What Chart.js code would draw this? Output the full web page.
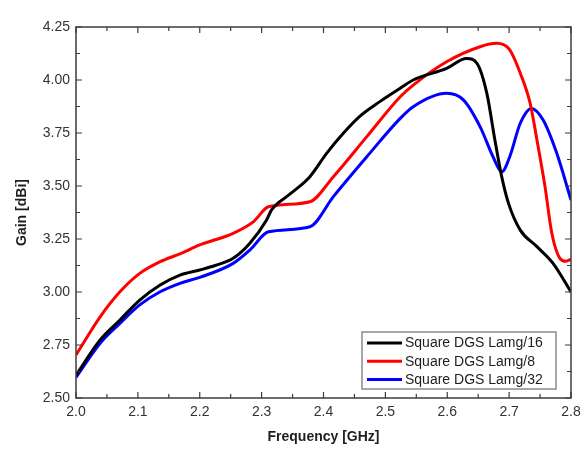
<!DOCTYPE html>
<html>
<head>
<meta charset="utf-8">
<script src="https://cdn.jsdelivr.net/npm/chart.js@4/dist/chart.umd.min.js"></script>
<style>
html,body{margin:0;padding:0;background:#fff;}
#wrap{width:584px;height:457px;position:relative;}
</style>
</head>
<body>
<div id="wrap"><canvas id="c" width="584" height="457"></canvas></div>
<script>
// ---- data ----
const seriesLabels = ['Square DGS Lamg/16', 'Square DGS Lamg/8', 'Square DGS Lamg/32'];
const seriesColors = ['#000000', '#ff0000', '#0000ff'];

const freq16 = [2.000,2.039,2.071,2.103,2.136,2.168,2.200,2.225,2.254,2.281,2.308,2.316,2.345,2.378,2.405,2.432,2.459,2.491,2.524,2.545,2.599,2.631,2.648,2.664,2.677,2.688,2.699,2.718,2.745,2.771,2.800];
const gain16 = [2.608,2.774,2.868,2.962,3.033,3.080,3.104,3.125,3.159,3.230,3.340,3.387,3.460,3.544,3.654,3.749,3.830,3.898,3.961,4.000,4.055,4.102,4.079,3.937,3.717,3.544,3.418,3.292,3.214,3.135,3.000];

const freq8 = [2.000,2.039,2.071,2.103,2.136,2.168,2.200,2.254,2.287,2.311,2.378,2.416,2.470,2.524,2.545,2.599,2.653,2.680,2.701,2.718,2.734,2.745,2.758,2.769,2.782,2.792,2.800];
const gain8 = [2.703,2.883,3.001,3.088,3.143,3.180,3.222,3.277,3.332,3.402,3.426,3.544,3.733,3.921,3.976,4.086,4.157,4.173,4.142,4.032,3.890,3.717,3.497,3.277,3.159,3.145,3.155];

const freq32 = [2.000,2.039,2.071,2.103,2.136,2.168,2.200,2.254,2.281,2.311,2.378,2.416,2.470,2.524,2.545,2.599,2.626,2.653,2.674,2.688,2.701,2.718,2.736,2.755,2.777,2.800];
const gain32 = [2.597,2.758,2.852,2.939,3.001,3.041,3.069,3.135,3.198,3.284,3.308,3.450,3.638,3.819,3.874,3.937,3.906,3.780,3.638,3.567,3.638,3.796,3.866,3.811,3.654,3.434];

const xMin = 2.0, xMax = 2.8, xStep = 0.1, xMinorStep = 0.05;
const yMin = 2.5, yMax = 4.25, yStep = 0.25, yMinorStep = 0.125;
const xTitle = 'Frequency [GHz]';
const yTitle = 'Gain [dBi]';

// ---- build ----
function pts(fx, gy){ return fx.map((f,i)=>({x:f, y:gy[i]})); }
const allFreq = [freq16, freq8, freq32];
const allGain = [gain16, gain8, gain32];

const FONT = "'Liberation Sans', Arial, Helvetica, sans-serif";
Chart.defaults.font.family = FONT;

const framePlugin = {
  id: 'frame',
  afterDatasetsDraw(chart){
    const {ctx, chartArea:a, scales:{x, y}} = chart;
    ctx.save();
    ctx.strokeStyle = '#3c3c3c';
    ctx.lineWidth = 1.5;
    ctx.strokeRect(a.left, a.top, a.right - a.left, a.bottom - a.top);
    ctx.lineWidth = 1.2;
    const nX = Math.round((xMax - xMin)/xMinorStep);
    for (let i=0;i<=nX;i++){
      const v = xMin + i*xMinorStep;
      const px = x.getPixelForValue(v);
      const len = (i%2===0) ? 6 : 4;
      ctx.beginPath();
      ctx.moveTo(px, a.bottom); ctx.lineTo(px, a.bottom - len);
      ctx.moveTo(px, a.top); ctx.lineTo(px, a.top + len);
      ctx.stroke();
    }
    const nY = Math.round((yMax - yMin)/yMinorStep);
    for (let i=0;i<=nY;i++){
      const v = yMin + i*yMinorStep;
      const py = y.getPixelForValue(v);
      const len = (i%2===0) ? 6 : 4;
      ctx.beginPath();
      ctx.moveTo(a.left, py); ctx.lineTo(a.left + len, py);
      ctx.moveTo(a.right, py); ctx.lineTo(a.right - len, py);
      ctx.stroke();
    }
    ctx.restore();
  }
};

const legendPlugin = {
  id: 'boxLegend',
  afterDraw(chart){
    const {ctx, chartArea:a} = chart;
    const w = 194, h = 57;
    const bx = a.right - 15 - w, by = a.bottom - 9 - h;
    ctx.save();
    ctx.fillStyle = '#ffffff';
    ctx.fillRect(bx, by, w, h);
    ctx.strokeStyle = '#8a8a8a';
    ctx.lineWidth = 1.5;
    ctx.strokeRect(bx, by, w, h);
    ctx.font = '14px ' + FONT;
    ctx.textBaseline = 'middle';
    ctx.textAlign = 'left';
    chart.data.datasets.forEach((ds, i) => {
      const yy = by + 11 + i*18.3;
      ctx.strokeStyle = ds.borderColor;
      ctx.lineWidth = 3;
      ctx.beginPath();
      ctx.moveTo(bx + 5, yy); ctx.lineTo(bx + 40, yy);
      ctx.stroke();
      ctx.fillStyle = '#1e1e1e';
      ctx.fillText(ds.label, bx + 43, yy + 0.5);
    });
    ctx.restore();
  }
};

new Chart(document.getElementById('c'), {
  type: 'line',
  data: {
    datasets: seriesLabels.map((lab, i) => ({
      label: lab,
      data: pts(allFreq[i], allGain[i]),
      borderColor: seriesColors[i],
      backgroundColor: seriesColors[i],
      borderWidth: 3,
      pointRadius: 0,
      cubicInterpolationMode: 'monotone',
      fill: false
    }))
  },
  options: {
    responsive: false,
    animation: false,
    devicePixelRatio: 1,
    layout: { padding: { top: 27, right: 13, left: 0, bottom: 0 } },
    plugins: { legend: { display: false }, tooltip: { enabled: false } },
    scales: {
      x: {
        type: 'linear', min: xMin, max: xMax,
        afterFit(s){ s.height = 59; s.paddingLeft = 0; s.paddingRight = 0; },
        grid: { display: false, drawTicks: false },
        border: { display: false },
        ticks: {
          stepSize: xStep, padding: 6, color: '#333333', maxRotation: 0,
          font: { size: 14 },
          callback: v => Number(v).toFixed(1)
        },
        title: { display: true, text: xTitle, color: '#1e1e1e',
                 font: { size: 14, weight: 'bold' }, padding: { top: 0, bottom: 11 } }
      },
      y: {
        type: 'linear', min: yMin, max: yMax,
        afterFit(s){ s.width = 76; s.paddingTop = 0; s.paddingBottom = 0; },
        grid: { display: false, drawTicks: false },
        border: { display: false },
        ticks: {
          stepSize: yStep, padding: 6, color: '#333333',
          font: { size: 14 },
          callback: v => Number(v).toFixed(2)
        },
        title: { display: true, text: yTitle, color: '#1e1e1e',
                 font: { size: 14, weight: 'bold' }, padding: { top: 14, bottom: 0 } }
      }
    }
  },
  plugins: [framePlugin, legendPlugin]
});
</script>
</body>
</html>
